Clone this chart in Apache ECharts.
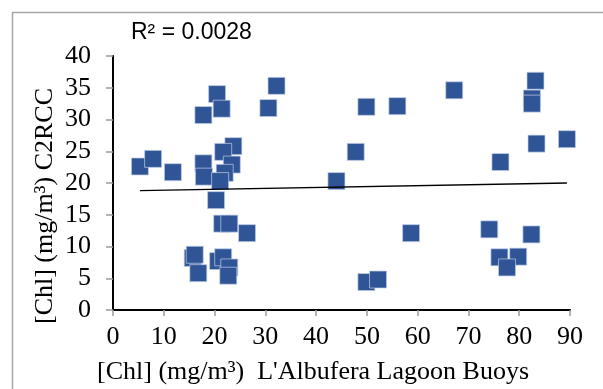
<!DOCTYPE html>
<html>
<head>
<meta charset="utf-8">
<script src="https://cdn.jsdelivr.net/npm/echarts@6/dist/echarts.min.js"></script>
<style>
html,body{margin:0;padding:0;background:#fff;}
#chart{width:603px;height:389px;}
</style>
</head>
<body>
<div id="chart"></div>
<script>
// Data
var pointsX = [5.3, 7.9, 11.8, 17.8, 20.5, 21.4, 32.2, 30.6, 23.7, 21.7, 17.8, 23.4, 17.9, 22.0, 21.1, 20.3, 21.5, 22.9, 26.4, 15.7, 16.1, 16.8, 20.7, 21.7, 22.9, 22.7, 44.0, 47.8, 49.9, 56.0, 67.2, 83.2, 82.5, 82.5, 83.4, 89.4, 76.3, 49.9, 52.2, 58.7, 74.1, 82.4, 76.1, 79.8, 77.6];
var pointsY = [22.6, 23.8, 21.7, 30.7, 34.0, 31.7, 35.3, 31.8, 25.8, 24.9, 23.1, 22.9, 21.0, 21.6, 20.3, 17.3, 13.6, 13.6, 12.1, 8.2, 8.7, 5.8, 7.7, 8.3, 6.7, 5.4, 20.3, 24.9, 32.0, 32.1, 34.6, 36.1, 33.3, 32.5, 26.2, 26.9, 23.3, 4.4, 4.8, 12.1, 12.7, 11.9, 8.3, 8.4, 6.7];
var trendX = [5.3, 89.4];
var trendY = [18.8, 20.0];
var xTicks = [0, 10, 20, 30, 40, 50, 60, 70, 80, 90];
var yTicks = [0, 5, 10, 15, 20, 25, 30, 35, 40];
var r2Label = 'R\u00B2 = 0.0028';
var xTitle = '[Chl] (mg/m\u00B3)  L\'Albufera Lagoon Buoys';
var yTitle = '[Chl] (mg/m\u00B3) C2RCC';

var scatterData = pointsX.map(function (x, i) { return [x, pointsY[i]]; });
var trendData = trendX.map(function (x, i) { return [x, trendY[i]]; });

var serif = 'Liberation Serif';
var chart = echarts.init(document.getElementById('chart'), null, {renderer: 'canvas'});
chart.setOption({
  animation: false,
  backgroundColor: '#fff',
  grid: {left: 113, top: 56, width: 457, height: 254, show: false},
  xAxis: [{
    type: 'value', min: xTicks[0], max: xTicks[xTicks.length - 1], interval: 10,
    axisLine: {show: true, lineStyle: {color: '#868686', width: 2}},
    axisTick: {show: true, length: 6, lineStyle: {color: '#9a9a9a', width: 1.5}},
    axisLabel: {fontFamily: serif, fontSize: 26, color: '#000', margin: 14},
    splitLine: {show: false}
  }, {
    type: 'value', position: 'top', min: xTicks[0], max: xTicks[xTicks.length - 1],
    axisLine: {show: true, lineStyle: {color: '#000', width: 2}},
    axisTick: {show: false}, axisLabel: {show: false}, splitLine: {show: false}
  }],
  yAxis: [{
    type: 'value', min: yTicks[0], max: yTicks[yTicks.length - 1], interval: 5,
    axisLine: {show: true, lineStyle: {color: '#868686', width: 2}},
    axisTick: {show: true, length: 7, lineStyle: {color: '#9a9a9a', width: 1.5}},
    axisLabel: {fontFamily: serif, fontSize: 26, color: '#000', margin: 22},
    splitLine: {show: false}
  }, {
    type: 'value', position: 'right', min: yTicks[0], max: yTicks[yTicks.length - 1],
    axisLine: {show: true, lineStyle: {color: '#000', width: 2}},
    axisTick: {show: false}, axisLabel: {show: false}, splitLine: {show: false}
  }],
  graphic: [{
    type: 'rect', z: -10, silent: true,
    shape: {x: 12.5, y: 12.5, width: 800, height: 600},
    style: {fill: 'none', stroke: '#a6a6a6', lineWidth: 1.5}
  }, {
    type: 'text', x: 131, y: 33,
    style: {text: r2Label, font: '23px "Liberation Sans"', fill: '#000', align: 'left', verticalAlign: 'middle'}
  }, {
    type: 'text', x: 313, y: 372,
    style: {text: xTitle, font: '26px "Liberation Serif"', fill: '#000', align: 'center', verticalAlign: 'middle'}
  }, {
    type: 'text', x: 45, y: 206, rotation: Math.PI / 2,
    style: {text: yTitle, font: '26px "Liberation Serif"', fill: '#000', align: 'center', verticalAlign: 'middle'}
  }],
  series: [{
    type: 'scatter', xAxisIndex: 0, yAxisIndex: 0,
    symbol: 'rect', symbolSize: 17,
    itemStyle: {color: '#2F5597', borderColor: '#c3cfe8', borderWidth: 0.7, opacity: 1},
    data: scatterData, z: 3
  }, {
    type: 'line', xAxisIndex: 0, yAxisIndex: 0,
    data: trendData, symbol: 'none',
    lineStyle: {color: '#000', width: 1.3}, z: 4
  }]
});
</script>
</body>
</html>
